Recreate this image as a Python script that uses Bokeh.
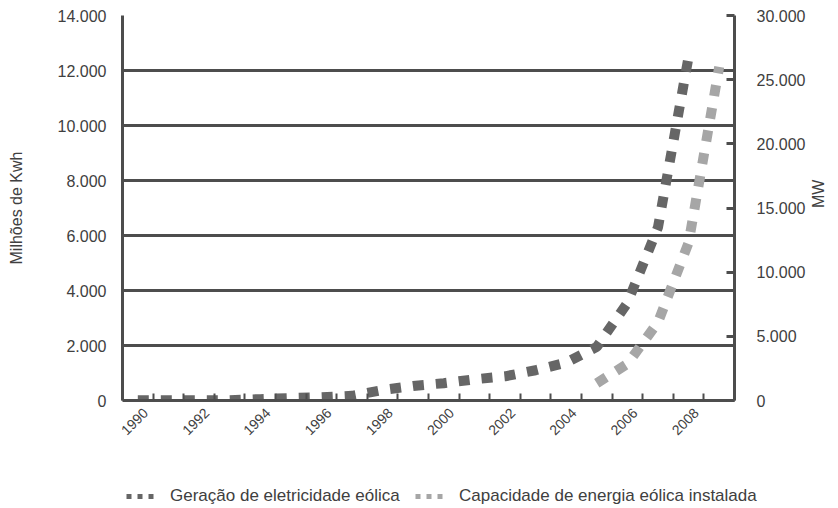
import math
from bokeh.plotting import figure
from bokeh.layouts import column
from bokeh.models import Range1d, LinearAxis, FixedTicker, Legend, LegendItem
from bokeh.embed import file_html
from bokeh.resources import INLINE

# ---------------- data ----------------
years = list(range(1990, 2010))
gen_years = list(range(1990, 2009))
generation = [10, 10, 10, 10, 50, 90, 120, 170, 380, 530, 630, 770, 880, 1100, 1380, 1950, 3550, 6300, 12500]
cap_years = [2005, 2006, 2007, 2008, 2009]
capacity = [1350, 2850, 6100, 12300, 26000]

left_ticks = [0, 2000, 4000, 6000, 8000, 10000, 12000, 14000]
left_labels = ["0", "2.000", "4.000", "6.000", "8.000", "10.000", "12.000", "14.000"]
right_ticks = [0, 5000, 10000, 15000, 20000, 25000, 30000]
right_labels = ["0", "5.000", "10.000", "15.000", "20.000", "25.000", "30.000"]
label_years = [1990, 1992, 1994, 1996, 1998, 2000, 2002, 2004, 2006, 2008]
x_labels = ["1990", "1992", "1994", "1996", "1998", "2000", "2002", "2004", "2006", "2008"]
series_names = ["Geração de eletricidade eólica", "Capacidade de energia eólica instalada"]
left_title = "Milhões de Kwh"
right_title = "MW"

# ---------------- style ----------------
FONT = "Liberation Sans"
DARK = "#666666"
LIGHT = "#a6a6a6"
AX = "#4d4d4d"
TXT = "#404040"
TICK_FS = "16px"

p = figure(width=838, height=470, output_backend="svg", toolbar_location=None,
           x_range=Range1d(1989.5, 2009.5), y_range=Range1d(0, 14000),
           min_border_left=122, min_border_right=100, min_border_top=15, min_border_bottom=70)
p.extra_y_ranges = {"mw": Range1d(0, 30000)}
p.outline_line_color = None
p.background_fill_color = "white"
p.border_fill_color = "white"

p.xgrid.visible = False
p.ygrid.ticker = FixedTicker(ticks=left_ticks[1:-1])
p.ygrid.grid_line_color = AX
p.ygrid.grid_line_width = 3

# left axis
yl = p.yaxis[0]
yl.ticker = FixedTicker(ticks=left_ticks)
yl.major_label_overrides = dict(zip(left_ticks, left_labels))
yl.major_tick_in = 0
yl.major_tick_out = 0
yl.minor_tick_line_color = None
yl.axis_line_color = AX
yl.axis_line_width = 3
yl.major_label_standoff = 16
yl.major_label_text_font = FONT
yl.major_label_text_font_size = TICK_FS
yl.major_label_text_color = TXT
yl.axis_label = left_title
yl.axis_label_text_font = FONT
yl.axis_label_text_font_size = "16px"
yl.axis_label_text_font_style = "normal"
yl.axis_label_text_color = TXT
yl.axis_label_standoff = 30

# right axis
yr = LinearAxis(y_range_name="mw", ticker=FixedTicker(ticks=right_ticks))
yr.major_label_overrides = dict(zip(right_ticks, right_labels))
yr.major_tick_in = 8
yr.major_tick_out = 0
yr.major_tick_line_color = AX
yr.major_tick_line_width = 3
yr.minor_tick_line_color = None
yr.axis_line_color = AX
yr.axis_line_width = 3
yr.major_label_standoff = 22
yr.major_label_text_font = FONT
yr.major_label_text_font_size = TICK_FS
yr.major_label_text_color = TXT
yr.axis_label = right_title
yr.axis_label_text_font = FONT
yr.axis_label_text_font_size = "16px"
yr.axis_label_text_font_style = "normal"
yr.axis_label_text_color = TXT
yr.axis_label_standoff = 10
yr.axis_label_orientation = math.pi / 2
p.add_layout(yr, "right")

# x axis: labels for even years, small inward marks between categories
label_pos = [y + 0.25 for y in label_years]
xa = p.xaxis[0]
xa.ticker = FixedTicker(ticks=label_pos, minor_ticks=[y - 0.5 for y in years] + [years[-1] + 0.5])
xa.major_label_overrides = dict(zip(label_pos, x_labels))
xa.major_label_orientation = math.pi / 4
xa.major_tick_line_color = None
xa.major_tick_in = 0
xa.major_tick_out = 0
xa.minor_tick_in = 7
xa.minor_tick_out = 0
xa.minor_tick_line_color = AX
xa.minor_tick_line_width = 2
xa.axis_line_color = AX
xa.axis_line_width = 3
xa.major_label_standoff = 10
xa.major_label_text_font = FONT
xa.major_label_text_font_size = "14px"
xa.major_label_text_color = TXT

# series
p.line(gen_years, generation, line_color=DARK, line_width=10, line_dash="11 12")
p.line(cap_years, capacity, y_range_name="mw", line_color=LIGHT, line_width=10, line_dash="11 12")

# ---------------- legend strip ----------------
p2 = figure(width=838, height=38, output_backend="svg", toolbar_location=None,
            x_range=Range1d(0, 1), y_range=Range1d(0, 1),
            x_axis_location=None, y_axis_location=None, min_border=0)
p2.frame_align = False
p2.outline_line_color = None
p2.grid.visible = False
# legend swatch renderers: the series themselves, drawn outside this strip's view
d1 = p2.line(gen_years, generation, line_color=DARK, line_width=5, line_dash="5 6")
d2 = p2.line(cap_years, capacity, line_color=LIGHT, line_width=5, line_dash="5 6")

def make_legend(label, rend, x):
    lg = Legend(items=[LegendItem(label=label, renderers=[rend])], location=(x, 2),
                orientation="horizontal", glyph_width=28, glyph_height=20, label_height=20,
                label_standoff=16, padding=0, margin=0, border_line_alpha=0,
                background_fill_alpha=0, label_text_font=FONT, label_text_font_size="17px",
                label_text_color=TXT, label_text_baseline="middle")
    p2.add_layout(lg)

make_legend(series_names[0], d1, 126)
make_legend(series_names[1], d2, 415)

open("out.html", "w").write(file_html(column(p, p2, spacing=0), INLINE))
